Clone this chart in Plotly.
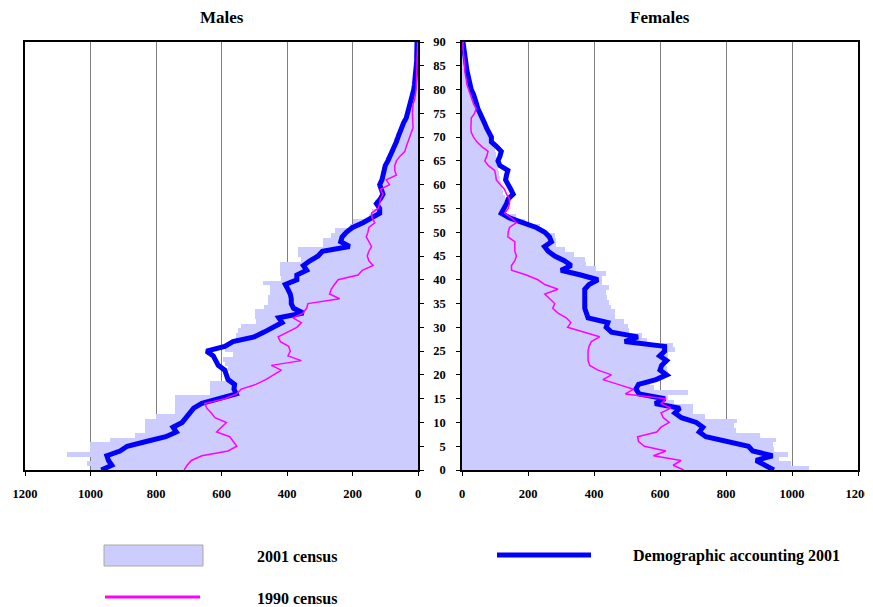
import plotly.graph_objects as go

ages = list(range(0, 91))

male_census_2001 = [
    1000, 1011, 1000, 1072, 1003, 1003, 942, 865, 835, 835,
    835, 799, 743, 743, 743, 743, 636, 636, 636, 575,
    575, 580, 590, 595, 565, 590, 580, 560, 555, 550,
    540, 494, 499, 499, 470, 458, 458, 453, 453, 473,
    417, 422, 422, 420, 356, 366, 366, 290, 290, 265,
    254, 209, 200, 150, 140, 125, 132, 120, 115, 118,
    122, 115, 112, 110, 105, 98, 90, 82, 76, 72,
    66, 60, 55, 48, 40, 35, 30, 25, 20, 16,
    14, 12, 10, 9, 7, 6, 5, 4, 4, 3, 3]

male_accounting_2001 = [
    967, 935, 945, 950, 910, 888, 830, 770, 738, 748,
    720, 708, 700, 685, 660, 600, 555, 562, 560, 580,
    585, 590, 610, 618, 625, 646, 590, 565, 500, 470,
    438, 415, 425, 350, 380, 387, 387, 390, 397, 405,
    370, 370, 340, 350, 330, 305, 292, 209, 236, 232,
    219, 200, 168, 140, 117, 117, 127, 115, 107, 112,
    117, 110, 107, 103, 100, 92, 85, 76, 70, 66,
    61, 56, 51, 44, 36, 32, 27, 22, 18, 14,
    13, 11, 9, 8, 6, 5, 4, 4, 3, 3, 3]

male_census_1990 = [
    714, 705, 692, 660, 580, 553, 564, 575, 615, 600,
    585, 620, 631, 645, 651, 590, 554, 540, 495, 465,
    440, 417, 448, 356, 397, 390, 395, 420, 427, 397,
    370, 356, 382, 351, 340, 336, 239, 270, 265, 255,
    244, 183, 170, 137, 150, 155, 150, 142, 150, 158,
    153, 150, 132, 140, 142, 122, 117, 115, 107, 115,
    87, 97, 66, 71, 71, 66, 55, 40, 36, 31,
    25, 20, 15, 16, 17, 17, 16, 15, 10, 7,
    6, 5, 4, 4, 3, 3, 3, 2, 2, 1, 1]

female_census_2001 = [
    1051, 997, 962, 987, 946, 943, 952, 903, 830, 825,
    832, 737, 700, 701, 643, 625, 686, 583, 570, 600,
    625, 620, 615, 625, 625, 645, 640, 560, 545, 505,
    503, 490, 465, 463, 450, 445, 440, 437, 445, 425,
    425, 435, 405, 375, 372, 340, 311, 286, 286, 281,
    240, 235, 190, 165, 125, 130, 132, 130, 125, 122,
    118, 115, 112, 110, 108, 105, 103, 100, 95, 88,
    82, 76, 70, 62, 56, 50, 45, 40, 35, 30,
    26, 22, 19, 16, 13, 11, 9, 7, 5, 4, 3]

female_accounting_2001 = [
    945, 921, 891, 941, 881, 868, 810, 739, 719, 730,
    710, 665, 645, 660, 585, 615, 537, 527, 535, 588,
    620, 600, 605, 620, 599, 614, 614, 493, 533, 453,
    437, 442, 382, 377, 372, 372, 372, 372, 372, 385,
    412, 360, 300, 331, 310, 281, 261, 250, 271, 265,
    251, 225, 185, 144, 119, 129, 135, 140, 155, 148,
    139, 132, 135, 139, 115, 109, 115, 119, 105, 89,
    89, 80, 74, 68, 60, 54, 48, 44, 40, 35,
    28, 24, 20, 17, 15, 13, 11, 8, 6, 4, 3]

female_census_1990 = [
    672, 640, 664, 580, 618, 553, 535, 532, 590, 603,
    628, 610, 603, 633, 603, 618, 495, 520, 473, 427,
    453, 412, 387, 382, 382, 382, 385, 392, 417, 370,
    320, 330, 316, 291, 275, 281, 265, 251, 291, 251,
    230, 195, 150, 150, 160, 165, 160, 160, 160, 139,
    140, 144, 165, 150, 129, 140, 144, 144, 135, 129,
    115, 104, 102, 99, 80, 69, 75, 79, 60, 45,
    35, 28, 27, 27, 28, 38, 43, 35, 30, 24,
    18, 15, 13, 10, 8, 8, 6, 5, 4, 3, 3]

x_ticks = [0, 200, 400, 600, 800, 1000, 1200]
age_ticks = list(range(0, 91, 5))

# The page body has an 8px margin, so the figure is drawn 8px in from the
# window corner; size it to the remaining area and map window pixels to it.
OFF = 8
W, H = 873 - OFF, 607 - OFF
FILL = "#CCCCFF"
BLUE = "#0000FF"
MAGENTA = "#FF00FF"
SERIF = "Liberation Serif, Times New Roman, serif"


def px(x):
    return (x - OFF) / W


def py(y):
    return 1 - (y - OFF) / H


fig = go.Figure()

for xa, ya, census, acc, old in [
    ("x", "y", male_census_2001, male_accounting_2001, male_census_1990),
    ("x2", "y2", female_census_2001, female_accounting_2001, female_census_1990),
]:
    fig.add_trace(go.Bar(x=census, y=ages, orientation="h", width=1, offset=-0.2,
                         marker=dict(color=FILL, line=dict(width=0)),
                         xaxis=xa, yaxis=ya, showlegend=False, name="2001 census"))
    fig.add_trace(go.Scatter(x=acc, y=ages, mode="lines",
                             line=dict(color=BLUE, width=5),
                             xaxis=xa, yaxis=ya, showlegend=False,
                             name="Demographic accounting 2001"))
    fig.add_trace(go.Scatter(x=old, y=ages, mode="lines",
                             line=dict(color=MAGENTA, width=1.5),
                             xaxis=xa, yaxis=ya, showlegend=False, name="1990 census"))

tickfont = dict(family=SERIF, size=12.5, color="black", weight="bold")
ydom = [py(470), py(42)]

common_x = dict(tickvals=x_ticks, showgrid=True, gridcolor="#808080", gridwidth=1,
                showline=True, linecolor="black", linewidth=1.5, mirror=True,
                ticks="outside", ticklen=4, tickcolor="black", zeroline=False,
                tickfont=tickfont, ticklabelstandoff=7, fixedrange=True,
                automargin=False)
common_y = dict(range=[0, 90], tickvals=age_ticks, showgrid=False,
                showline=True, linecolor="black", linewidth=1.5, mirror=True,
                ticks="outside", ticklen=4, tickcolor="black", zeroline=False,
                tickfont=tickfont, domain=ydom, automargin=False, fixedrange=True)

fig.update_layout(
    width=W, height=H, autosize=False,
    margin=dict(l=0, r=0, t=0, b=0, pad=0, autoexpand=False),
    paper_bgcolor="white", plot_bgcolor="white",
    barmode="overlay", bargap=0,
    showlegend=False,
    xaxis=dict(domain=[px(25), px(418)], range=[1200, 0], anchor="y", **common_x),
    yaxis=dict(anchor="x", side="right", showticklabels=False, **common_y),
    xaxis2=dict(domain=[px(462), px(858)], range=[0, 1200], anchor="y2", **common_x),
    yaxis2=dict(anchor="x2", side="left", showticklabels=True, ticklabelstandoff=8, **common_y),
)

title_font = dict(family=SERIF, size=17, color="black")
fig.add_annotation(text="<b>Males</b>", x=px(222), y=py(17), xref="paper", yref="paper",
                   showarrow=False, font=title_font, xanchor="center", yanchor="middle")
fig.add_annotation(text="<b>Females</b>", x=px(660), y=py(17), xref="paper", yref="paper",
                   showarrow=False, font=title_font, xanchor="center", yanchor="middle")

# Legend
leg_font = dict(family=SERIF, size=16, color="black")
fig.add_shape(type="rect", xref="paper", yref="paper", x0=px(104), x1=px(203),
              y0=py(566), y1=py(545), fillcolor=FILL, line=dict(color="#A8A8A8", width=1))
fig.add_shape(type="line", xref="paper", yref="paper", x0=px(497), x1=px(591),
              y0=py(555), y1=py(555), line=dict(color=BLUE, width=5))
fig.add_shape(type="line", xref="paper", yref="paper", x0=px(105), x1=px(200),
              y0=py(597), y1=py(597), line=dict(color=MAGENTA, width=3))
for txt, x, y in [("2001 census", 255, 556), ("Demographic accounting 2001", 631, 556),
                  ("1990 census", 255, 598)]:
    fig.add_annotation(text="<b>" + txt + "</b>", x=px(x), y=py(y), xref="paper", yref="paper",
                       showarrow=False, font=leg_font, xanchor="left", yanchor="middle")

fig.write_html("out.html")
